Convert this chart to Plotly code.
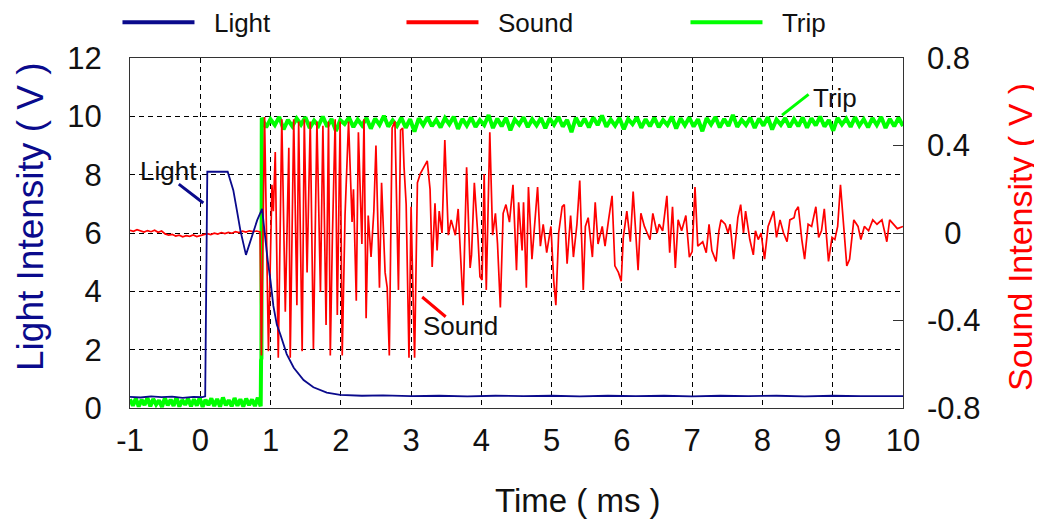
import numpy as np
import plotly.graph_objects as go

# ---------------- data ----------------
# Light intensity (V, left axis) vs time (ms)
light_t = [-1.0, -0.85, -0.7, -0.55, -0.4, -0.25, -0.1, 0.03, 0.07, 0.09, 0.10, 0.39, 0.47,
           0.52, 0.57, 0.65, 0.735, 0.81, 0.88, 0.92, 0.96, 1.0, 1.04, 1.09, 1.14, 1.23, 1.33,
           1.47, 1.61, 1.80, 1.99, 2.3, 2.6, 3.0, 3.4, 3.8, 4.2, 4.6, 5.0, 5.4, 5.8, 6.2, 6.6,
           7.0, 7.4, 7.8, 8.2, 8.6, 9.0, 9.4, 9.8, 10.0]
light_v = [0.38, 0.36, 0.40, 0.37, 0.39, 0.35, 0.38, 0.37, 0.40, 7.03, 8.10, 8.10, 7.47,
           6.79, 6.10, 5.25, 5.87, 6.44, 6.83, 5.90, 5.05, 4.35, 3.50, 2.85, 2.52, 1.85, 1.38,
           0.96, 0.71, 0.53, 0.45, 0.42, 0.43, 0.41, 0.42, 0.40, 0.42, 0.41, 0.42, 0.40, 0.42,
           0.41, 0.42, 0.40, 0.42, 0.41, 0.42, 0.40, 0.42, 0.41, 0.42, 0.41]

# Sound intensity (V, right axis): quiet part before the trip (sampled -1.0 .. 0.85 ms)
sound_pre_v = [0.012, 0.008, 0.015, 0.010, 0.004, 0.011, 0.006, 0.013, 0.003, 0.009,
               -0.004, -0.010, -0.006, -0.014, -0.010, -0.017, -0.012, -0.015, -0.009, -0.016,
               -0.011, -0.008, -0.003, -0.007, -0.001, -0.005, 0.002, -0.003, 0.003, -0.001,
               0.006, 0.002, 0.008, 0.004, 0.010, 0.006, 0.009, 0.005]
# Sound after the trip (ms, V)
sound_t = [0.87, 0.915, 0.97, 1.02, 1.04, 1.067, 1.11, 1.16, 1.21, 1.26, 1.28, 1.33, 1.375,
           1.40, 1.45, 1.48, 1.52, 1.565, 1.61, 1.66, 1.71, 1.745, 1.79, 1.825, 1.85, 1.88,
           1.92, 1.95, 1.99, 2.02, 2.06, 2.11, 2.16, 2.18, 2.22, 2.25, 2.30, 2.33, 2.36, 2.39,
           2.43, 2.47, 2.50, 2.55, 2.58, 2.63, 2.66, 2.69, 2.73, 2.77, 2.80, 2.82, 2.85, 2.88,
           2.90, 2.93, 2.97, 3.0, 3.02, 3.05, 3.09, 3.13, 3.18, 3.23, 3.27, 3.30, 3.34, 3.37,
           3.40, 3.44, 3.48, 3.53, 3.57, 3.60, 3.63, 3.67, 3.71, 3.74, 3.79, 3.84, 3.86, 3.90,
           3.95, 3.98, 4.01, 4.04, 4.07, 4.12, 4.16, 4.20, 4.23, 4.27, 4.31, 4.35, 4.40, 4.45,
           4.50, 4.53, 4.58, 4.60, 4.64, 4.67, 4.72, 4.75, 4.80, 4.84, 4.88, 4.93, 4.99, 5.03,
           5.06, 5.10, 5.15, 5.18, 5.22, 5.27, 5.31, 5.36, 5.40, 5.45, 5.48, 5.52, 5.58, 5.62,
           5.66, 5.72, 5.76, 5.81, 5.86, 5.90, 5.95, 5.99, 6.02, 6.07, 6.12, 6.16, 6.20, 6.23,
           6.27, 6.32, 6.36, 6.40, 6.44, 6.50, 6.53, 6.58, 6.64, 6.68, 6.72, 6.76, 6.80, 6.85,
           6.91, 6.96, 7.0, 7.04, 7.08, 7.15, 7.20, 7.24, 7.28, 7.34, 7.38, 7.41, 7.47, 7.51,
           7.54, 7.59, 7.65, 7.69, 7.73, 7.76, 7.82, 7.87, 7.90, 7.94, 7.98, 8.03, 8.08, 8.12,
           8.16, 8.20, 8.25, 8.30, 8.35, 8.39, 8.45, 8.47, 8.51, 8.56, 8.60, 8.65, 8.70, 8.76,
           8.80, 8.84, 8.88, 8.94, 8.99, 9.03, 9.07, 9.11, 9.16, 9.20, 9.24, 9.30, 9.36, 9.40,
           9.45, 9.51, 9.57, 9.63, 9.70, 9.77, 9.81, 9.86, 9.92, 10.0]
sound_v = [-0.56, 0.53, -0.54, 0.22, 0.10, 0.37, -0.57, 0.52, -0.36, 0.39, -0.57, 0.52, -0.33,
           0.51, -0.54, 0.52, -0.18, 0.51, -0.53, 0.51, -0.27, 0.49, -0.42, 0.51, -0.56, -0.02,
           0.52, -0.375, 0.51, -0.56, 0.08, 0.51, 0.05, 0.20, -0.31, 0.46, -0.05, 0.52, -0.39, 0.08,
           -0.11, 0.10, 0.40, -0.25, 0.23, -0.18, -0.25, -0.56, 0.48, 0.51, 0.08, -0.26, 0.47, 0.48,
           0.30, 0.13, -0.57, 0.12, -0.18, -0.57, 0.23, 0.27, 0.30, 0.33, 0.20, -0.155, 0.136, -0.08,
           0.10, 0.0, 0.425, -0.01, 0.06, 0.03, -0.01, 0.11, -0.155, -0.33, 0.30, -0.16, -0.10, 0.23,
           -0.01, -0.20, -0.215, 0.27, -0.26, 0.46, -0.01, 0.09, -0.05, -0.34, 0.09, 0.13, 0.05, 0.22,
           -0.17, 0.14, -0.08, 0.14, -0.25, 0.21, -0.12, 0.02, 0.21, -0.06, 0.04, -0.09, 0.03, -0.22,
           -0.33, 0.0, 0.12, 0.13, -0.14, 0.08, -0.11, 0.04, 0.24, -0.26, 0.03, 0.07, -0.11, 0.14,
           -0.05, 0.03, -0.06, 0.06, 0.17, -0.15, -0.18, -0.22, -0.02, 0.10, -0.04, 0.19, -0.03, -0.17,
           0.09, 0.03, 0.0, -0.03, 0.09, 0.0, 0.04, 0.01, 0.17, -0.09, 0.12, -0.16, 0.06, 0.01,
           0.08, -0.11, -0.085, 0.21, -0.06, -0.04, -0.09, 0.04, -0.08, -0.13, 0.01, 0.06, 0.04, 0.0,
           0.04, -0.12, 0.07, 0.13, 0.0, 0.10, -0.03, -0.10, 0.01, -0.03, 0.0, -0.12, 0.03, 0.07,
           0.10, -0.02, 0.06, 0.0, -0.04, 0.06, 0.07, 0.10, 0.12, -0.03, -0.12, 0.04, 0.03, 0.12,
           -0.02, 0.01, 0.11, -0.13, -0.02, -0.03, 0.03, 0.22, 0.0, -0.15, -0.12, 0.06, 0.03, -0.03,
           0.03, 0.01, 0.06, 0.04, 0.06, -0.04, 0.06, 0.04, 0.02, 0.03]

# Trip signal (V, left axis): low level before the trip (sampled -1.0 .. 0.86 ms)
trip_low_v = [0.30, 0.08, 0.33, 0.05, 0.28, 0.10, 0.35, 0.06, 0.31, 0.12, 0.26, 0.04, 0.34, 0.09,
              0.29, 0.07, 0.36, 0.05, 0.27, 0.11, 0.32, 0.06, 0.30, 0.08, 0.35, 0.04, 0.28, 0.10,
              0.33, 0.07, 0.31, 0.05, 0.36, 0.09, 0.27, 0.06, 0.34, 0.08, 0.30, 0.05, 0.32, 0.10,
              0.29, 0.07, 0.35, 0.06]
# rising edge (ms, V)
trip_edge_t = [0.865, 0.87]
trip_edge_v = [1.65, 1.70]
# high level after the trip (sampled 0.875 .. 10 ms)
trip_high_v = [9.95, 9.62, 9.90, 9.70, 9.98, 9.55, 9.88, 9.66, 9.93, 9.72, 9.97, 9.60, 9.85, 9.68,
               9.99, 9.64, 9.91, 9.50, 9.87, 9.74, 9.96, 9.63, 9.89, 9.69, 9.94, 9.58, 9.92, 9.71,
               10.02, 9.65, 9.86, 9.67, 9.95, 9.61, 9.90, 9.48, 9.93, 9.70, 9.97, 9.66, 9.88, 9.62,
               9.94, 9.73, 9.99, 9.57, 9.91, 9.68, 9.96, 9.64, 9.87, 9.70, 10.04, 9.60, 9.92, 9.66,
               9.95, 9.52, 9.89, 9.72, 9.97, 9.63, 9.90, 9.69, 9.94, 9.59, 9.93, 9.71, 9.98, 9.65,
               9.88, 9.46, 9.95, 9.67, 9.92, 9.62, 9.96, 9.70, 10.03, 9.64, 9.89, 9.68, 9.94, 9.56,
               9.91, 9.73, 9.97, 9.61, 9.90, 9.66, 9.95, 9.63, 9.87, 9.70, 9.99, 9.58, 9.93, 9.69,
               9.96, 9.65, 9.90, 9.49, 9.94, 9.72, 9.98, 9.62, 9.91, 9.67, 10.05, 9.64, 9.88, 9.70,
               9.95, 9.60, 9.92, 9.68, 9.97, 9.55, 9.89, 9.71, 9.94, 9.63, 9.90, 9.66, 9.96, 9.61,
               9.93, 9.69, 9.99, 9.65, 9.87, 9.51, 9.95, 9.72, 9.92, 9.64, 9.97, 9.68, 9.90, 9.62,
               9.94, 9.70, 9.98, 9.60, 9.91, 9.66, 9.95, 9.67]

x_ticks = [-1, 0, 1, 2, 3, 4, 5, 6, 7, 8, 9, 10]
x_ticktext = ["-1", "0", "1", "2", "3", "4", "5", "6", "7", "8", "9", "10"]
y_ticks = [0, 2, 4, 6, 8, 10, 12]
y2_ticks = [-0.8, -0.4, 0, 0.4, 0.8]
y2_ticktext = ["-0.8", "-0.4", "\u00a0\u00a00", "0.4", "0.8"]
legend_names = ["Light", "Sound", "Trip"]

# ---------------- assemble series ----------------
sound_pre_t = np.linspace(-1.0, 0.85, len(sound_pre_v))
s_t = list(sound_pre_t) + sound_t
s_v = sound_pre_v + sound_v

trip_t = (list(np.linspace(-1.0, 0.86, len(trip_low_v))) + trip_edge_t +
          list(np.linspace(0.875, 10.0, len(trip_high_v))))
trip_v = trip_low_v + trip_edge_v + trip_high_v

NAVY = "#0a0a8c"
RED = "#ff0000"
GREEN = "#00ff00"
SANS = "Liberation Sans, Arial, sans-serif"
TICKFONT = dict(family=SANS, size=31, color="#111111")

fig = go.Figure()
fig.add_trace(go.Scatter(x=trip_t, y=trip_v, mode="lines", yaxis="y",
                         line=dict(color=GREEN, width=4), showlegend=False, hoverinfo="skip"))
fig.add_trace(go.Scatter(x=s_t, y=s_v, mode="lines", yaxis="y2",
                         line=dict(color=RED, width=1.7), showlegend=False, hoverinfo="skip"))
fig.add_trace(go.Scatter(x=light_t, y=light_v, mode="lines", yaxis="y3",
                         line=dict(color=NAVY, width=1.8), showlegend=False, hoverinfo="skip"))

# legend entries
for name, col, rank in zip(legend_names, [NAVY, RED, GREEN], [1, 2, 3]):
    fig.add_trace(go.Scatter(x=[None], y=[None], mode="lines", name="\u00a0\u00a0" + name,
                             legendrank=rank, line=dict(color=col, width=4)))

# The page body adds an 8px offset, so the figure is 8px smaller than the window.
grid = dict(showgrid=True, gridcolor="#000000", gridwidth=1, griddash="5px,4px")
fig.update_layout(
    width=1034, height=512,
    margin=dict(l=122, r=139, t=50, b=112, autoexpand=False),
    paper_bgcolor="white", plot_bgcolor="white",
    xaxis=dict(range=[-1, 10], tickvals=x_ticks, ticktext=x_ticktext, zeroline=False,
               showline=True, linecolor="#333333", linewidth=1, mirror=True, ticks="",
               tickfont=TICKFONT, ticklabelstandoff=5, **grid),
    yaxis=dict(range=[0, 12], tickvals=y_ticks, zeroline=False, showline=True,
               linecolor="#333333", linewidth=1, mirror=True, ticks="",
               tickfont=TICKFONT, ticklabelstandoff=21, **grid),
    yaxis2=dict(range=[-0.8, 0.8], tickvals=y2_ticks, ticktext=y2_ticktext, overlaying="y",
                side="right", showgrid=False, zeroline=False, ticks="inside", ticklen=10,
                tickcolor="#333333", tickfont=TICKFONT, ticklabelstandoff=23),
    yaxis3=dict(range=[0, 12], overlaying="y", visible=False),
    legend=dict(orientation="h", x=-0.0162, y=1.102, xanchor="left", yanchor="middle",
                itemwidth=72, entrywidth=197, entrywidthmode="pixels",
                font=dict(family=SANS, size=26, color="#111111"), bgcolor="rgba(0,0,0,0)"),
    showlegend=True,
)

# axis titles
fig.add_annotation(text="Time ( ms )", xref="paper", yref="paper", x=0.5796, y=-0.263,
                   xanchor="center", yanchor="middle",
                   showarrow=False, font=dict(family=SANS, size=33, color="#111111"))
fig.add_annotation(text="Light Intensity ( V )", xref="paper", yref="paper", x=-0.128, y=0.546,
                   xanchor="center", yanchor="middle", textangle=-90, showarrow=False,
                   font=dict(family=SANS, size=37, color=NAVY))
fig.add_annotation(text="Sound Intensity ( V )", xref="paper", yref="paper", x=1.1514, y=0.489,
                   xanchor="center", yanchor="middle", textangle=-90, showarrow=False,
                   font=dict(family=SANS, size=34, color=RED))

# in-plot labels with pointer lines
lab = dict(family=SANS, size=26, color="#111111")
fig.add_annotation(x=0.043, y=7.03, xref="x", yref="y", text="", showarrow=True, arrowhead=0,
                   arrowwidth=3, arrowcolor=NAVY, ax=-26, ay=-20)
fig.add_annotation(x=-0.455, y=8.12, xref="x", yref="y", text="Light", showarrow=False, font=lab)
fig.add_annotation(x=3.158, y=-0.2926, xref="x", yref="y2", text="", showarrow=True, arrowhead=0,
                   arrowwidth=3, arrowcolor=RED, ax=25, ay=21)
fig.add_annotation(x=3.70, y=-0.425, xref="x", yref="y2", text="Sound", showarrow=False, font=lab)
fig.add_annotation(x=8.279, y=10.04, xref="x", yref="y", text="", showarrow=True, arrowhead=0,
                   arrowwidth=3, arrowcolor=GREEN, ax=28, ay=-22)
fig.add_annotation(x=9.03, y=10.63, xref="x", yref="y", text="Trip", showarrow=False, font=lab)

fig.write_html("out.html")
